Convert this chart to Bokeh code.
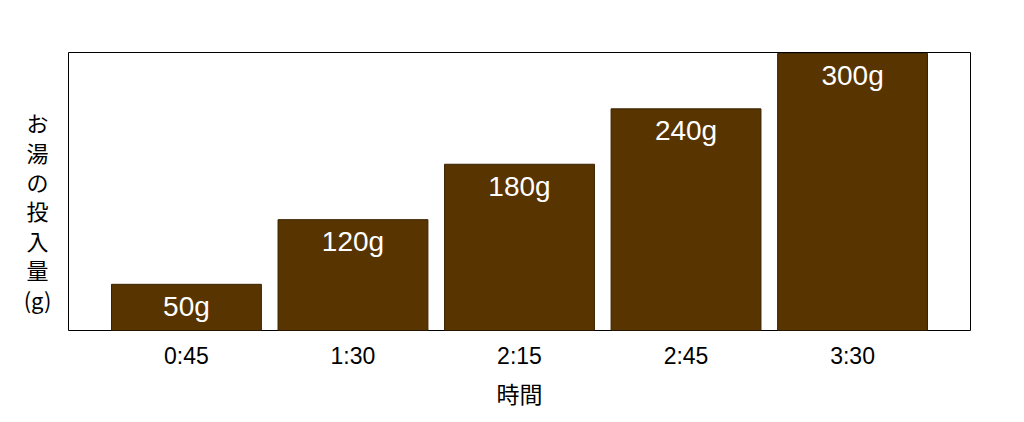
from bokeh.plotting import figure
from bokeh.models import ColumnDataSource, FactorRange, Range1d, Label
from bokeh.layouts import row
from bokeh.core.properties import value
from bokeh.embed import file_html
from bokeh.resources import INLINE

times = ["0:45", "1:30", "2:15", "2:45", "3:30"]
amounts = [50, 120, 180, 240, 300]
bar_labels = [f"{a}g" for a in amounts]
y_title = "お湯の投入量(g)"
x_title = "時間"

H = 414

src = ColumnDataSource(dict(t=times, a=amounts, lab=bar_labels))

p = figure(width=948, height=H, output_backend="svg", toolbar_location=None,
           x_range=FactorRange(factors=times, range_padding=0.0833),
           y_range=Range1d(0, 301))

p.vbar(x="t", top="a", width=0.9, source=src, fill_color="#573400",
       line_color="#3a2200", line_width=1)
p.text(x="t", y="a", text="lab", source=src, text_color="white",
       text_font=value("Liberation Sans"), text_font_size="28px",
       text_align="center", text_baseline="middle", y_offset=22)

p.xgrid.visible = False
p.ygrid.visible = False
p.yaxis.visible = False
p.outline_line_color = "black"
p.outline_line_width = 1
p.background_fill_color = "white"
p.border_fill_color = "white"

xa = p.xaxis[0]
xa.axis_line_color = None
xa.major_tick_line_color = None
xa.minor_tick_line_color = None
xa.major_label_text_font = "Liberation Sans"
xa.major_label_text_font_size = "23px"
xa.major_label_text_color = "black"
xa.major_label_standoff = 6
xa.axis_label = x_title
xa.axis_label_text_font = "Noto Sans CJK JP"
xa.axis_label_text_font_size = "23px"
xa.axis_label_text_font_style = "normal"
xa.axis_label_text_color = "black"
xa.axis_label_standoff = 4

p.min_border_left = 0
p.min_border_right = 46
p.min_border_top = 52
p.min_border_bottom = 84

# left strip holding the stacked y-axis title
q = figure(width=68, height=H, output_backend="svg", toolbar_location=None,
           x_range=Range1d(0, 1), y_range=Range1d(0, 1))
q.xaxis.visible = False
q.yaxis.visible = False
q.xgrid.visible = False
q.ygrid.visible = False
q.outline_line_color = None
q.min_border = 0
q.min_border_left = 0
q.min_border_right = 0
q.min_border_top = 0
q.min_border_bottom = 0
ylab = Label(x=37, y=120, x_units="screen", y_units="screen",
             text="\n".join(list("お湯の投入量") + ["(g)"]),
             text_font="Noto Sans CJK JP", text_font_size="22px",
             text_align="center", text_baseline="middle",
             text_line_height=0.92, text_color="black")
q.add_layout(ylab)

layout = row(q, p, spacing=0)
open("out.html", "w").write(file_html(layout, INLINE))
